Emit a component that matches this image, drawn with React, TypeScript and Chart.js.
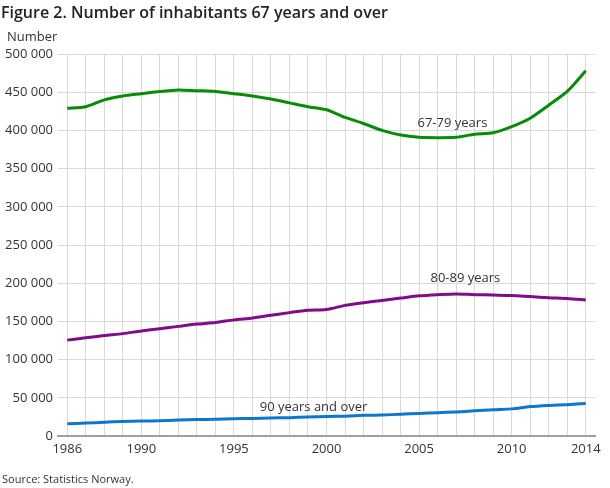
import React, { useEffect, useRef } from "react";
import { Chart, registerables } from "chart.js";

Chart.register(...registerables);

const years = [
  "1986", "1987", "1988", "1989", "1990", "1991", "1992", "1993", "1994", "1995",
  "1996", "1997", "1998", "1999", "2000", "2001", "2002", "2003", "2004", "2005",
  "2006", "2007", "2008", "2009", "2010", "2011", "2012", "2013", "2014",
];
const shownYears = ["1986", "1990", "1995", "2000", "2005", "2010", "2014"];

const age67to79 = [
  429000, 431000, 440000, 445000, 448000, 451000, 453000, 452000, 451000, 448000,
  445000, 441000, 436000, 431000, 427000, 417000, 409000, 400000, 394000, 391000,
  390500, 391000, 395000, 397000, 405000, 416000, 433000, 451000, 478000,
];
const age80to89 = [
  125500, 128500, 131500, 134000, 137500, 140500, 143500, 146500, 148500, 152000,
  154500, 158000, 161500, 164500, 165500, 171000, 174500, 177500, 180500, 183500,
  185000, 186000, 185000, 184500, 184000, 182500, 181000, 180000, 178000,
];
const age90plus = [
  16000, 17000, 18000, 19000, 19500, 20000, 20800, 21500, 22000, 22500,
  23000, 23500, 24000, 25000, 25500, 26000, 27000, 27500, 28500, 29500,
  30500, 31500, 33000, 34500, 35500, 38500, 40000, 41000, 42500,
];

const seriesNames = ["67-79 years", "80-89 years", "90 years and over"];
// label anchors in data terms: [year index, value]
const labelYearIdx = [20.8, 21.5, 13.3];
const labelValues = [409000, 207000, 37000];

const titleText = "Figure 2. Number of inhabitants 67 years and over";
const yAxisTitle = "Number";
const sourceText = "Source: Statistics Norway.";

const fmt = (v: number) => String(v).replace(/\B(?=(\d{3})+(?!\d))/g, " ");

export default function App() {
  const ref = useRef<HTMLCanvasElement | null>(null);
  useEffect(() => {
    if (!ref.current) return;
    const textPlugin = {
      id: "texts",
      afterDraw(chart: any) {
        const ctx = chart.ctx;
        ctx.save();
        ctx.fillStyle = "#222";
        ctx.textBaseline = "middle";
        ctx.textAlign = "left";
        ctx.font = "600 16px 'Open Sans'";
        ctx.fillText(titleText, 1, 13);
        ctx.font = "13px 'Open Sans'";
        ctx.fillStyle = "#333";
        ctx.fillText(yAxisTitle, 7, 37);
        ctx.font = "11px 'Open Sans'";
        ctx.fillText(sourceText, 2, 480);
        const xs = chart.scales.x;
        const ys = chart.scales.y;
        ctx.font = "13px 'Open Sans'";
        ctx.textAlign = "center";
        ctx.fillStyle = "#333";
        seriesNames.forEach((n, i) => {
          const i0 = Math.floor(labelYearIdx[i]);
          const f = labelYearIdx[i] - i0;
          const x = xs.getPixelForValue(i0) * (1 - f) + xs.getPixelForValue(i0 + 1) * f;
          const y = ys.getPixelForValue(labelValues[i]);
          ctx.fillText(n, x, y);
        });
        ctx.restore();
      },
    };
    const chart = new Chart(ref.current, {
      type: "line",
      data: {
        labels: years,
        datasets: [
          { label: seriesNames[0], data: age67to79, borderColor: "#078c07", borderWidth: 3, pointRadius: 0, tension: 0.25, fill: false },
          { label: seriesNames[1], data: age80to89, borderColor: "#810b8b", borderWidth: 3, pointRadius: 0, tension: 0.25, fill: false },
          { label: seriesNames[2], data: age90plus, borderColor: "#0b78d0", borderWidth: 3, pointRadius: 0, tension: 0.25, fill: false },
        ],
      },
      options: {
        animation: false,
        responsive: false,
        devicePixelRatio: 1,
        layout: { padding: { left: 0, right: 15, top: 54, bottom: 22 } },
        plugins: { legend: { display: false }, tooltip: { enabled: false }, title: { display: false } },
        scales: {
          x: {
            type: "category",
            offset: true,
            grid: { offset: false, color: "#d9d9d9", lineWidth: 1, drawTicks: false },
            border: { color: "#a0a0a0", width: 2 },
            ticks: {
              autoSkip: false,
              maxRotation: 0,
              padding: 5,
              color: "#333",
              font: { family: "'Open Sans'", size: 13 },
              callback: (_v: any, i: number) => (shownYears.includes(years[i]) ? years[i] : ""),
            },
            afterFit: (s: any) => { s.height = 30; },
          },
          y: {
            min: 0,
            max: 500000,
            grid: { color: "#d9d9d9", lineWidth: 1, drawTicks: false },
            border: { display: false },
            ticks: {
              stepSize: 50000,
              padding: 5,
              color: "#333",
              font: { family: "'Open Sans'", size: 13 },
              callback: (v: any) => fmt(Number(v)),
            },
            afterFit: (s: any) => { s.width = 58; },
          },
        },
      },
      plugins: [textPlugin],
    } as any);
    return () => chart.destroy();
  }, []);
  return (
    <div style={{ position: "absolute", left: 0, top: 0, width: 610, height: 488, background: "#fff" }}>
      <canvas ref={ref} width={610} height={488} style={{ width: 610, height: 488, display: "block" }} />
    </div>
  );
}
